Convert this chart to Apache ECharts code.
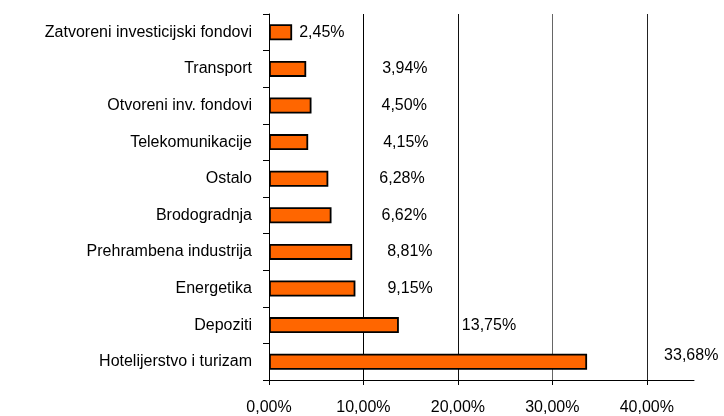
<!DOCTYPE html>
<html>
<head>
<meta charset="utf-8">
<script src="https://cdn.jsdelivr.net/npm/echarts@6/dist/echarts.min.js"></script>
<style>html,body{margin:0;padding:0;background:#fff}#c{width:724px;height:416px}</style>
</head>
<body>
<div id="c"></div>
<script>
const categories = [
  'Hotelijerstvo i turizam',
  'Depoziti',
  'Energetika',
  'Prehrambena industrija',
  'Brodogradnja',
  'Ostalo',
  'Telekomunikacije',
  'Otvoreni inv. fondovi',
  'Transport',
  'Zatvoreni investicijski fondovi'
];
const values = [33.68, 13.75, 9.15, 8.81, 6.62, 6.28, 4.15, 4.50, 3.94, 2.45];
const xTicks = [0, 10, 20, 30, 40];

// label styling (gap from bar end, vertical shift) – style only
const labelGap = [77, 63, 32, 35, 50, 51, 75, 70, 76, 7];
const labelShiftY = [-6, 0, 0, 0, 0, 0, 0, 0, 0, 0];

const fmt = v => v.toFixed(2).replace('.', ',') + '%';
const font = 'Liberation Sans, Arial, Helvetica, sans-serif';

const chart = echarts.init(document.getElementById('c'), null, {renderer: 'canvas'});
chart.setOption({
  animation: false,
  backgroundColor: '#fff',
  grid: {left: 269, right: 30, top: 14, bottom: 36, containLabel: false},
  xAxis: {
    type: 'value',
    min: xTicks[0],
    max: 45,
    interval: xTicks[1] - xTicks[0],
    axisLine: {show: true, lineStyle: {color: '#000', width: 1}},
    axisTick: {show: true, length: 5, lineStyle: {color: '#000'}},
    axisLabel: {
      margin: 20, color: '#000', fontSize: 16, fontFamily: font,
      showMaxLabel: false,
      formatter: v => (xTicks.indexOf(v) >= 0 ? fmt(v) : '')
    },
    splitLine: {show: true, showMinLine: false, showMaxLine: false,
      lineStyle: {color: ['#000', '#111', '#666', '#222', '#666'], width: 1}}
  },
  yAxis: {
    type: 'category',
    data: categories,
    axisLine: {show: true, lineStyle: {color: '#000', width: 1}},
    axisTick: {show: true, length: 6, lineStyle: {color: '#000'}},
    axisLabel: {margin: 17, color: '#000', fontSize: 16, fontFamily: font},
    splitLine: {show: false}
  },
  series: [{
    type: 'bar',
    barWidth: 16,
    data: values.map((v, i) => ({
      value: v,
      label: {distance: labelGap[i], offset: [0, labelShiftY[i]]}
    })),
    itemStyle: {color: '#FF6600', borderColor: '#000', borderWidth: 1.8},
    label: {
      show: true, position: 'right', color: '#000', fontSize: 16, fontFamily: font,
      formatter: p => fmt(p.value)
    }
  }]
});
</script>
</body>
</html>
